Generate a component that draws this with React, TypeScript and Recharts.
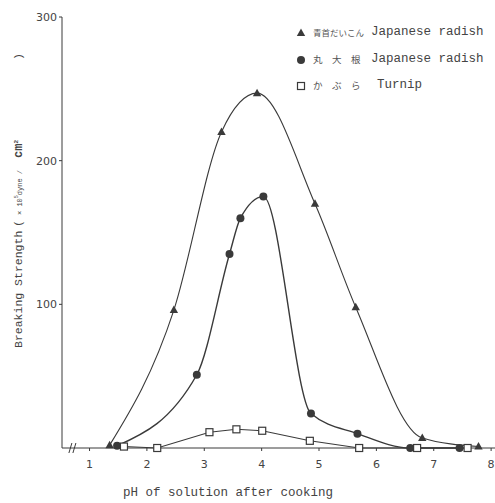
import { LineChart, Line, XAxis, YAxis, ReferenceDot } from 'recharts';

// pH of solution after cooking / breaking strength (x10^5 dyne/cm2)
const aoPh = [1.35, 2.47, 3.3, 3.92, 4.93, 5.64, 6.8, 7.78];
const aoStrength = [2, 96, 220, 247, 170, 98, 7, 1];

const maruPh = [1.48, 2.87, 3.44, 3.63, 4.03, 4.86, 5.67, 6.59, 7.45];
const maruStrength = [1.5, 51, 135, 160, 175, 24, 10, 0, 0];

const kabuPh = [1.6, 2.18, 3.09, 3.56, 4.01, 4.84, 5.7, 6.71, 7.59];
const kabuStrength = [1, 0, 11, 13, 12, 5, 0, 0, 0];

const xTicks = [1, 2, 3, 4, 5, 6, 7, 8];
const yTicks = [100, 200, 300];

const toRows = (ph: number[], v: number[]) => ph.map((p, i) => ({ ph: p, v: v[i] }));
const aoData = toRows(aoPh, aoStrength);
const maruData = toRows(maruPh, maruStrength);
const kabuData = toRows(kabuPh, kabuStrength);

const ink = '#3a3a3a';
const mono = '"Liberation Mono", "DejaVu Sans Mono", monospace';
const jp = '"Noto Sans CJK JP", sans-serif';

const TriangleDot = (props: any) => {
  const { cx, cy, index } = props;
  return <path key={'t' + index} d={`M${cx},${cy - 4.5} L${cx + 4.2},${cy + 3} L${cx - 4.2},${cy + 3} Z`} fill={ink} />;
};
const CircleDot = (props: any) => {
  const { cx, cy, index } = props;
  return <circle key={'c' + index} cx={cx} cy={cy} r={4} fill={ink} />;
};
const SquareDot = (props: any) => {
  const { cx, cy, index } = props;
  return <rect key={'s' + index} x={cx - 3.5} y={cy - 3.5} width={7} height={7} fill="#fff" stroke={ink} strokeWidth={1.2} />;
};

const BreakMark = (props: any) => {
  const { cx, cy } = props;
  return (
    <g stroke={ink} strokeWidth={1} fill="none">
      <path d={`M${cx - 4},${cy + 5} L${cx - 1},${cy - 5}`} />
      <path d={`M${cx},${cy + 5} L${cx + 3},${cy - 5}`} />
    </g>
  );
};

const YLabel = () => (
  <text transform="translate(22,348) rotate(-90)" fill="#444" fontFamily={mono} fontSize={11.5}>
    <tspan x={0}>Breaking Strength</tspan>
    <tspan x={121}>(</tspan>
    <tspan x={133} fontSize={7}>× 10</tspan>
    <tspan dy={-4} fontSize={5}>5</tspan>
    <tspan dy={4} fontSize={7}>dyne /</tspan>
    <tspan x={190} fontWeight="bold" fontSize={12}>cm</tspan>
    <tspan dy={-4} fontSize={6} fontWeight="bold">2</tspan>
    <tspan dy={4} x={288}>)</tspan>
  </text>
);

const XLabel = () => (
  <text x={228} y={496} textAnchor="middle" fill="#444" fontFamily={mono} fontSize={12.5}>
    pH of solution after cooking
  </text>
);

const legendRows = [
  { key: 'ao', jp: '青首だいこん', jpSize: 8.5, en: 'Japanese radish', top: 33 },
  { key: 'maru', jp: '丸　大　根', jpSize: 9.5, en: 'Japanese radish', top: 60 },
  { key: 'kabu', jp: 'か　ぶ　ら', jpSize: 9.5, en: 'Turnip', top: 86 },
];

const LegendMarker = ({ kind }: { kind: string }) => (
  <svg width={10} height={10} style={{ position: 'absolute', left: -5, top: -5 }}>
    {kind === 'ao' && <path d="M5,0.5 L9.2,8 L0.8,8 Z" fill={ink} />}
    {kind === 'maru' && <circle cx={5} cy={5} r={4} fill={ink} />}
    {kind === 'kabu' && <rect x={1.5} y={1.5} width={7} height={7} fill="#fff" stroke={ink} strokeWidth={1.2} />}
  </svg>
);

export default function App() {
  return (
    <div style={{ position: 'absolute', left: 0, top: 0, width: 495, height: 503, overflow: 'hidden', background: '#fff' }}>
      <LineChart width={500} height={503} margin={{ top: 17, right: 2, left: 2, bottom: 25 }}>
        <XAxis
          type="number"
          dataKey="ph"
          domain={[0.52, 8.12]}
          ticks={xTicks}
          allowDataOverflow
          height={30}
          stroke={ink}
          tickSize={3}
          tickMargin={9}
          tick={{ fill: '#444', fontSize: 11, fontFamily: 'DejaVu Sans' }}
        />
        <YAxis
          type="number"
          domain={[0, 300]}
          ticks={yTicks}
          width={60}
          stroke={ink}
          tickSize={3}
          tickMargin={2}
          tick={{ fill: '#444', fontSize: 11, fontFamily: 'DejaVu Sans' }}
        />
        <Line data={aoData} dataKey="v" type="monotone" stroke={ink} strokeWidth={1.1} dot={TriangleDot} isAnimationActive={false} />
        <Line data={maruData} dataKey="v" type="monotone" stroke={ink} strokeWidth={1.4} dot={CircleDot} isAnimationActive={false} />
        <Line data={kabuData} dataKey="v" type="linear" stroke={ink} strokeWidth={1.1} dot={SquareDot} isAnimationActive={false} />
        <ReferenceDot x={0.71} y={0} shape={BreakMark} ifOverflow="visible" />
        <YLabel />
        <XLabel />
      </LineChart>
      {legendRows.map((r) => (
        <div key={r.key} style={{ position: 'absolute', left: 301, top: r.top, height: 0 }}>
          <LegendMarker kind={r.key} />
          <span style={{ position: 'absolute', left: 12, top: -7, fontFamily: jp, fontSize: r.jpSize, color: '#555', whiteSpace: 'nowrap', lineHeight: '12px' }}>
            {r.jp}
          </span>
          <span style={{ position: 'absolute', left: r.key === 'kabu' ? 76 : 70, top: -9, fontFamily: mono, fontSize: 12.5, color: '#444', whiteSpace: 'nowrap', lineHeight: '16px' }}>
            {r.en}
          </span>
        </div>
      ))}
    </div>
  );
}
